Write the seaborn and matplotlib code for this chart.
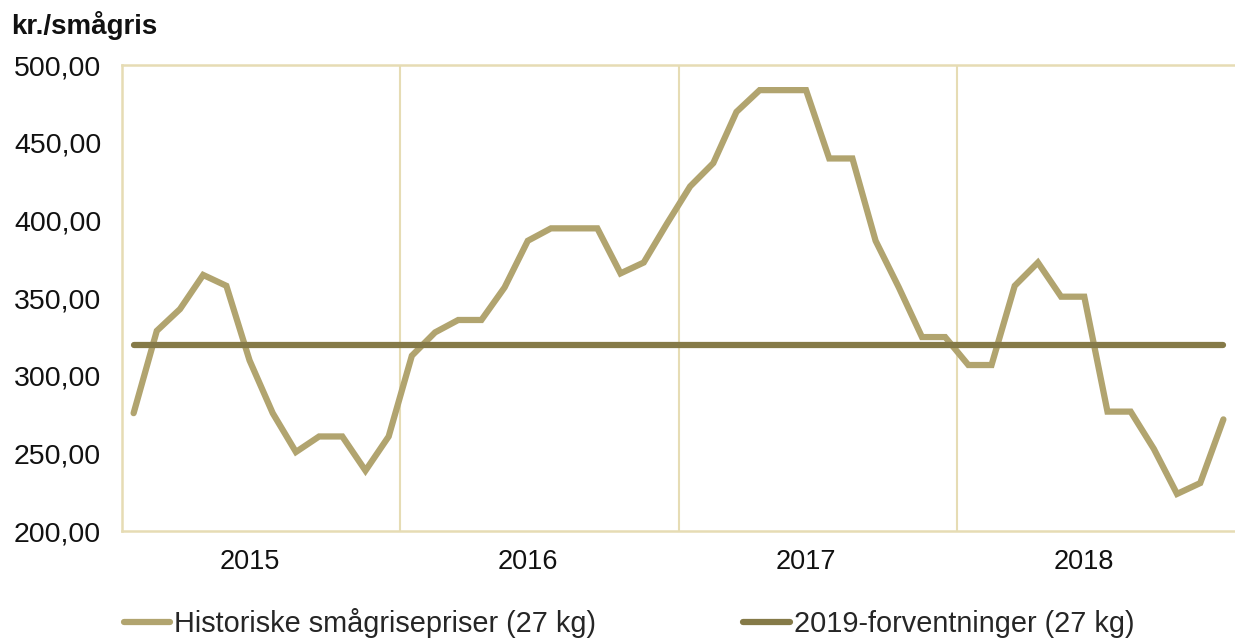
import numpy as np
import pandas as pd
import seaborn as sns
import matplotlib.pyplot as plt
from matplotlib.lines import Line2D

# ===== DATA =====
years = ["2015", "2016", "2017", "2018"]
historic = [
    276, 329, 343, 365, 358, 310, 276, 251, 261, 261, 239, 261,   # 2015
    313, 328, 336, 336, 357, 387, 395, 395, 395, 366, 373, 398,   # 2016
    422, 437, 470, 484, 484, 484, 440, 440, 387, 357, 325, 325,   # 2017
    307, 307, 358, 373, 351, 351, 277, 277, 253, 224, 231, 272,   # 2018
]
forecast_level = 320
series_names = ["Historiske smågrisepriser (27 kg)", "2019-forventninger (27 kg)"]
yticks = [200, 250, 300, 350, 400, 450, 500]

month = np.arange(len(historic))
df = pd.DataFrame({
    "month": np.concatenate([month, month]),
    "value": historic + [forecast_level] * len(historic),
    "series": [series_names[0]] * len(historic) + [series_names[1]] * len(historic),
})

# ===== STYLE =====
sns.set_theme(style="white")
plt.rcParams['font.family'] = ['Liberation Sans', 'DejaVu Sans']

colors = {series_names[0]: "#b1a46f", series_names[1]: "#857a48"}
frame_col = "#e6dcb4"

fig = plt.figure(figsize=(12.35, 6.4), dpi=100)
ax = fig.add_axes([0.0988, 0.170, 0.9012, 0.728])

sns.lineplot(data=df, x="month", y="value", hue="series", palette=colors,
             linewidth=4.5, ax=ax, legend=False, solid_capstyle="round",
             solid_joinstyle="miter")

ax.set_xlim(-0.5, len(historic) - 0.5)
ax.set_ylim(200, 500)
ax.set_yticks(yticks)
ax.set_yticklabels([f"{v:.2f}".replace(".", ",") for v in yticks])

# year labels sit under the 6th month of each year, boundaries as grid lines
ax.set_xticks([12 * i + 5 for i in range(len(years))])
ax.set_xticklabels(years)
for b in range(1, len(years)):
    ax.axvline(12 * b - 0.5, color=frame_col, linewidth=1.5, zorder=0)

ax.tick_params(axis="y", labelsize=20.5, pad=15, length=0, colors="#111111")
ax.tick_params(axis="x", labelsize=19.5, pad=13, length=0, colors="#111111")
ax.set_xlabel("")
ax.set_ylabel("")

for side in ["left", "top", "bottom"]:
    ax.spines[side].set_color(frame_col)
    ax.spines[side].set_linewidth(1.8)
ax.spines["right"].set_visible(False)

fig.text(0.009, 0.96, "kr./smågris", fontsize=20, fontweight="bold",
         color="#111111", va="center", ha="left")

# ===== LEGEND =====
handles = [Line2D([0], [0], color=colors[s], linewidth=4.5) for s in series_names]
fig.legend(handles, series_names, loc="center left", bbox_to_anchor=(0.1, 0.026),
           ncol=2, frameon=False, fontsize=20.8, handlelength=1.6, handletextpad=0.15,
           columnspacing=5.1, borderpad=0, borderaxespad=0)

plt.savefig("out.png", dpi=100)
